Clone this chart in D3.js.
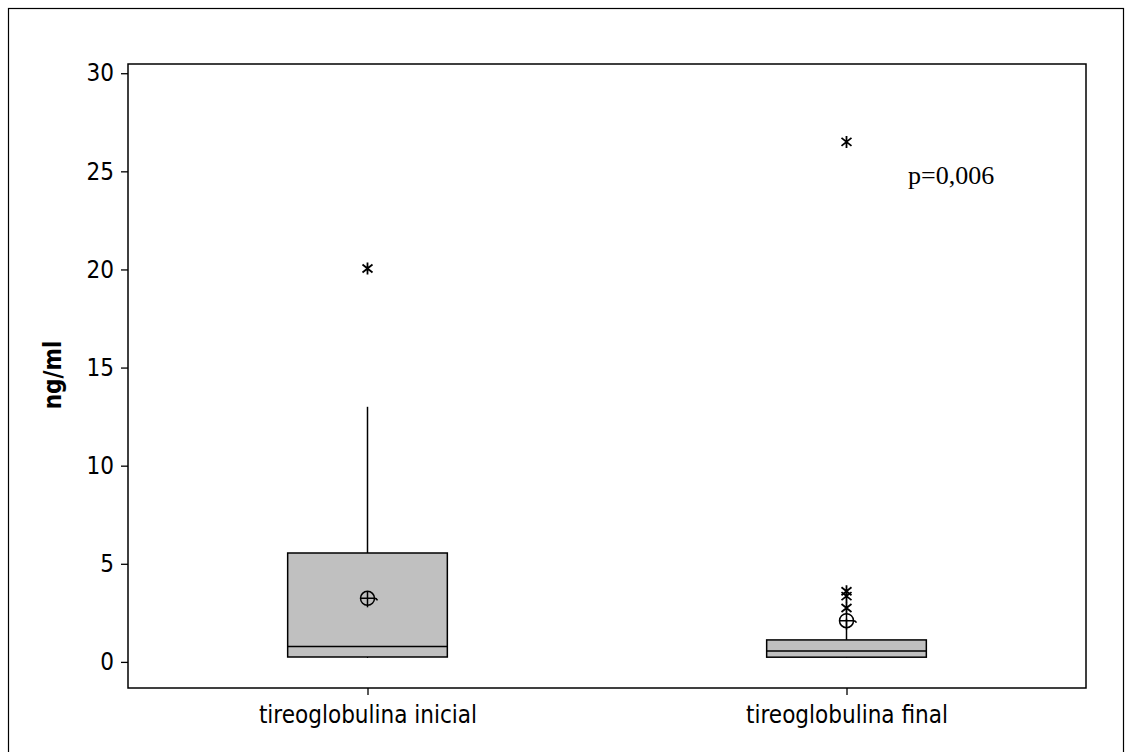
<!DOCTYPE html>
<html><head><meta charset="utf-8">
<script src="https://cdn.jsdelivr.net/npm/d3@7"></script>
<style>
body{margin:0;background:#fff;}
svg{display:block;}
</style></head>
<body>
<svg id="chart" width="1125" height="752"></svg>
<script>
// Data
const categories = ["tireoglobulina inicial", "tireoglobulina final"];
const q1 = [0.25, 0.24];
const median = [0.78, 0.56];
const q3 = [5.55, 1.12];
const whiskerLow = [0.2, 0.2];
const whiskerHigh = [13.0, 2.2];
const means = [3.24, 2.1];
const outliers = [[20.05], [26.5, 3.6, 3.35, 2.75]];
const yTicks = [0, 5, 10, 15, 20, 25, 30];
const yDomain = [-1.33, 30.47];
const pText = "p=0,006";

const svg = d3.select("#chart");
const m = {left: 128, top: 64, right: 1086, bottom: 688};
const sansFont = "'DejaVu Sans Condensed', 'DejaVu Sans', sans-serif";

// outer border
svg.append("rect").attr("x", 8.5).attr("y", 8.5).attr("width", 1115).attr("height", 800)
  .attr("fill", "none").attr("stroke", "#000").attr("stroke-width", 1.2);

const x = d3.scalePoint().domain(categories).range([m.left, m.right]).padding(0.5);
const y = d3.scaleLinear().domain(yDomain).range([m.bottom, m.top]);
const boxW = x.step() / 3;

// plot frame
svg.append("rect").attr("x", m.left).attr("y", m.top)
  .attr("width", m.right - m.left).attr("height", m.bottom - m.top)
  .attr("fill", "none").attr("stroke", "#000").attr("stroke-width", 1.5);

// y axis
const yAxis = svg.append("g").attr("transform", `translate(${m.left},0)`)
  .call(d3.axisLeft(y).tickValues(yTicks).tickSize(7).tickPadding(7));
yAxis.select(".domain").remove();
yAxis.selectAll("line").attr("stroke", "#000").attr("stroke-width", 1.3);
yAxis.selectAll("text").attr("font-family", sansFont).attr("font-size", 24).attr("fill", "#000");

// x axis
const xAxis = svg.append("g").attr("transform", `translate(0,${m.bottom})`)
  .call(d3.axisBottom(x).tickSize(7).tickPadding(11));
xAxis.select(".domain").remove();
xAxis.selectAll("line").attr("stroke", "#000").attr("stroke-width", 1.3);
xAxis.selectAll("text").attr("font-family", sansFont).attr("font-size", 24).attr("fill", "#000");

// y label
svg.append("text").attr("transform", `translate(61,375) rotate(-90)`)
  .attr("text-anchor", "middle").attr("font-family", sansFont)
  .attr("font-size", 24).attr("font-weight", "bold").text("ng/ml");

// boxes
categories.forEach((c, i) => {
  const cx = x(c);
  const g = svg.append("g");
  g.append("line").attr("x1", cx).attr("x2", cx).attr("y1", y(q3[i])).attr("y2", y(whiskerHigh[i]))
    .attr("stroke", "#000").attr("stroke-width", 1.5);
  g.append("line").attr("x1", cx).attr("x2", cx).attr("y1", y(q1[i])).attr("y2", y(whiskerLow[i]))
    .attr("stroke", "#000").attr("stroke-width", 1.2);
  g.append("rect").attr("x", cx - boxW / 2).attr("y", y(q3[i]))
    .attr("width", boxW).attr("height", y(q1[i]) - y(q3[i]))
    .attr("fill", "#c0c0c0").attr("stroke", "#000").attr("stroke-width", 1.5);
  g.append("line").attr("x1", cx - boxW / 2).attr("x2", cx + boxW / 2)
    .attr("y1", y(median[i])).attr("y2", y(median[i]))
    .attr("stroke", "#000").attr("stroke-width", 1.5);
  // mean symbol
  const my = y(means[i]);
  const r = 7;
  g.append("circle").attr("cx", cx).attr("cy", my).attr("r", r)
    .attr("fill", "none").attr("stroke", "#000").attr("stroke-width", 1.5);
  g.append("line").attr("x1", cx).attr("x2", cx).attr("y1", my - r).attr("y2", my + r + 2)
    .attr("stroke", "#000").attr("stroke-width", 1.5);
  g.append("path").attr("d", `M${cx - r},${my} L${cx + r},${my} Q${cx + r + 2},${my} ${cx + r + 3},${my + 2}`)
    .attr("fill", "none").attr("stroke", "#000").attr("stroke-width", 1.5);
  // outliers (asterisk)
  outliers[i].forEach(v => {
    const oy = y(v), s = 5;
    const p = `M${cx - s},${oy - s + 1}L${cx + s},${oy + s - 1}M${cx - s},${oy + s - 1}L${cx + s},${oy - s + 1}M${cx},${oy - s - 1}L${cx},${oy + s + 1}`;
    g.append("path").attr("d", p).attr("stroke", "#000").attr("stroke-width", 1.8).attr("fill", "none");
  });
});

// p-value
svg.append("text").attr("x", 908).attr("y", 184)
  .attr("font-family", "'Liberation Serif', 'Times New Roman', serif")
  .attr("font-size", 26).attr("fill", "#000").text(pText);
</script>
</body></html>
